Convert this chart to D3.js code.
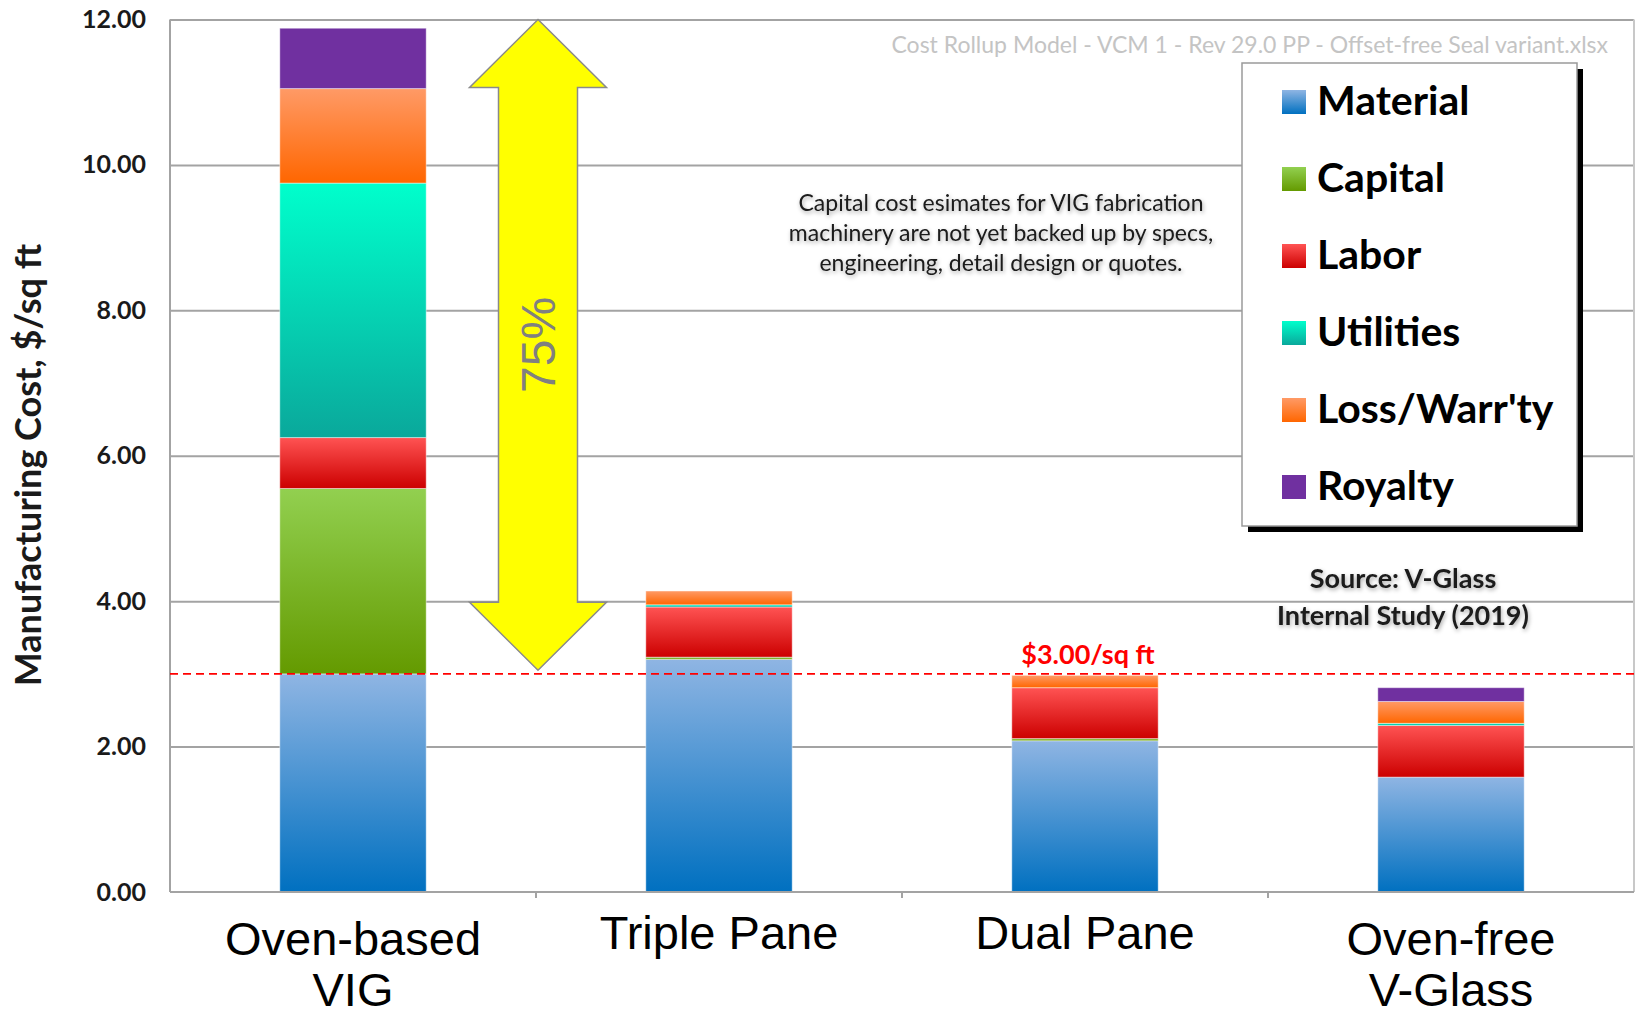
<!DOCTYPE html>
<html>
<head>
<meta charset="utf-8">
<script src="https://cdn.jsdelivr.net/npm/d3@7"></script>
<style>
  body { margin: 0; background: #fff; }
  text { font-family: Lato, "Open Sans", sans-serif; }
</style>
</head>
<body>
<script>
// Chart data
const categories = ["Oven-based VIG", "Triple Pane", "Dual Pane", "Oven-free V-Glass"];
const categoryLines = [["Oven-based", "VIG"], ["Triple Pane"], ["Dual Pane"], ["Oven-free", "V-Glass"]];
const seriesNames = ["Material", "Capital", "Labor", "Utilities", "Loss/Warr'ty", "Royalty"];
const material = [3.00, 3.20, 2.08, 1.58];
const capital = [2.55, 0.03, 0.03, 0.00];
const labor = [0.70, 0.69, 0.70, 0.71];
const utilities = [3.50, 0.03, 0.00, 0.03];
const lossWarranty = [1.30, 0.19, 0.17, 0.30];
const royalty = [0.83, 0.00, 0.00, 0.19];
const yTicks = [0, 2, 4, 6, 8, 10, 12];
const targetCost = 3.00;
const arrowRange = [3.05, 12];
const arrowLabel = "75%";

// Colors (top, bottom of the gradient)
const seriesColors = [
  ["#8fb5e3", "#0070c0"],
  ["#92d050", "#649a00"],
  ["#ff5353", "#cc0000"],
  ["#00ffcc", "#0aa89b"],
  ["#ff9a66", "#ff6600"],
  ["#7030a0", "#7030a0"]
];
const grid_color = "#a3a3a3";

let width = 1640;
let height = 1018;

let svg = d3.select("body")
  .append("svg")
  .attr("width", width)
  .attr("height", height);

let defs = svg.append("defs");
seriesColors.forEach((c, i) => {
  let g = defs.append("linearGradient")
    .attr("id", "grad" + i)
    .attr("x1", 0).attr("y1", 0).attr("x2", 0).attr("y2", 1);
  g.append("stop").attr("offset", "0%").attr("stop-color", c[0]);
  g.append("stop").attr("offset", "100%").attr("stop-color", c[1]);
});
let glow = defs.append("filter").attr("id", "glow")
  .attr("x", "-10%").attr("y", "-30%").attr("width", "120%").attr("height", "160%");
glow.append("feDropShadow").attr("dx", 1).attr("dy", 2).attr("stdDeviation", 2)
  .attr("flood-color", "#000").attr("flood-opacity", 0.35);

// Plot area
const plot = {left: 170, right: 1634, top: 19.5, bottom: 892};

const x = d3.scaleBand()
  .domain(categories)
  .range([plot.left, plot.right])
  .paddingInner(0.6)
  .paddingOuter(0.3);

const y = d3.scaleLinear()
  .domain([0, 12])
  .range([plot.bottom, plot.top]);

// Gridlines
svg.append("g")
  .attr("transform", `translate(${plot.left},0)`)
  .call(d3.axisLeft(y).tickValues(yTicks.slice(1)).tickSize(-(plot.right - plot.left)).tickFormat(""))
  .call(g => g.select(".domain").remove())
  .call(g => g.selectAll("line").attr("stroke", grid_color).attr("stroke-width", 2));

// Frame
svg.append("line")
  .attr("x1", plot.left).attr("x2", plot.left)
  .attr("y1", plot.top).attr("y2", plot.bottom)
  .attr("stroke", grid_color).attr("stroke-width", 2);
svg.append("line")
  .attr("x1", plot.right).attr("x2", plot.right)
  .attr("y1", plot.top).attr("y2", plot.bottom)
  .attr("stroke", "#c8c8c8").attr("stroke-width", 2);

// Stacked bars
const rows = categories.map((c, i) => ({
  category: c,
  "Material": material[i],
  "Capital": capital[i],
  "Labor": labor[i],
  "Utilities": utilities[i],
  "Loss/Warr'ty": lossWarranty[i],
  "Royalty": royalty[i]
}));
const stacked = d3.stack().keys(seriesNames)(rows);

svg.append("g").selectAll("g")
  .data(stacked)
  .enter().append("g")
  .attr("fill", (d, i) => `url(#grad${i})`)
  .selectAll("rect")
  .data(d => d.filter(s => s[1] - s[0] > 0))
  .enter().append("rect")
  .attr("x", d => x(d.data.category))
  .attr("y", d => y(d[1]))
  .attr("width", x.bandwidth())
  .attr("height", d => y(d[0]) - y(d[1]))
  .attr("stroke", "rgba(255,255,255,0.45)")
  .attr("stroke-width", 1);

// X axis line + boundary ticks
svg.append("line")
  .attr("x1", plot.left).attr("x2", plot.right)
  .attr("y1", y(0)).attr("y2", y(0))
  .attr("stroke", grid_color).attr("stroke-width", 2);
const gap = x.step() * x.paddingInner() / 2;
svg.append("g").selectAll("line")
  .data(categories.slice(1))
  .enter().append("line")
  .attr("x1", d => x(d) - gap).attr("x2", d => x(d) - gap)
  .attr("y1", y(0)).attr("y2", y(0) + 6)
  .attr("stroke", grid_color).attr("stroke-width", 2);

// Category labels
let xAxis = svg.append("g")
  .attr("transform", `translate(0,${y(0)})`)
  .call(d3.axisBottom(x).tickSize(0).tickFormat(""));
xAxis.select(".domain").remove();
xAxis.selectAll(".tick").each(function(d, i) {
  let lines = categoryLines[i];
  let t = d3.select(this).append("text")
    .attr("text-anchor", "middle")
    .attr("fill", "#000")
    .style("font-family", "'Liberation Sans', Arial, sans-serif")
    .style("font-size", "47px");
  let base = lines.length > 1 ? 63 : 57;
  lines.forEach((l, j) => {
    t.append("tspan").attr("x", 0).attr("y", base + j * 51).text(l);
  });
});

// Y axis labels
svg.append("g")
  .attr("transform", `translate(${plot.left},0)`)
  .call(d3.axisLeft(y).tickValues(yTicks).tickSize(0).tickPadding(24).tickFormat(d3.format(".2f")))
  .call(g => g.select(".domain").remove())
  .call(g => g.selectAll("text")
    .attr("fill", "#1a1a1a")
    .style("font-family", "Lato, sans-serif")
    .style("font-size", "25px")
    .style("font-weight", "bold"));

svg.append("text")
  .attr("transform", `translate(32,465) rotate(-90)`)
  .attr("text-anchor", "middle")
  .attr("dominant-baseline", "middle")
  .attr("fill", "#1a1a1a")
  .style("font-size", "36px")
  .style("font-weight", "bold")
  .text("Manufacturing Cost, $/sq ft");

// Target line
svg.append("line")
  .attr("x1", plot.left).attr("x2", plot.right)
  .attr("y1", y(targetCost)).attr("y2", y(targetCost))
  .attr("stroke", "#ff0000").attr("stroke-width", 1.8)
  .attr("stroke-dasharray", "8,5");
svg.append("text")
  .attr("x", x("Dual Pane") + x.bandwidth() / 2 + 3)
  .attr("y", y(targetCost) - 10)
  .attr("text-anchor", "middle")
  .attr("fill", "#ff0000")
  .style("font-size", "27px")
  .style("font-weight", "bold")
  .text("$3.00/sq ft");

// Double arrow
const ax = x(categories[1]) - gap + 2;
const aTop = y(arrowRange[1]);
const aBot = y(arrowRange[0]);
const headLen = 68, headHalf = 68.5, shaftHalf = 39.5;
const arrowPts = [
  [ax, aTop], [ax + headHalf, aTop + headLen], [ax + shaftHalf, aTop + headLen],
  [ax + shaftHalf, aBot - headLen], [ax + headHalf, aBot - headLen], [ax, aBot],
  [ax - headHalf, aBot - headLen], [ax - shaftHalf, aBot - headLen],
  [ax - shaftHalf, aTop + headLen], [ax - headHalf, aTop + headLen]
];
svg.append("path")
  .attr("d", d3.line()(arrowPts) + "Z")
  .attr("fill", "#ffff00")
  .attr("stroke", "#8a8a8a")
  .attr("stroke-width", 1.5);
svg.append("text")
  .attr("transform", `translate(${ax + 4},${(aTop + aBot) / 2}) rotate(-90)`)
  .attr("text-anchor", "middle")
  .attr("dominant-baseline", "middle")
  .attr("fill", "#808080")
  .style("font-family", "'Liberation Sans', Arial, sans-serif")
  .style("font-size", "48px")
  .text(arrowLabel);

// Watermark
svg.append("text")
  .attr("x", 1608).attr("y", 53)
  .attr("text-anchor", "end")
  .attr("fill", "#c4c4c4")
  .style("font-size", "23px")
  .text("Cost Rollup Model - VCM 1 - Rev 29.0 PP - Offset-free Seal variant.xlsx");

// Note
const noteLines = ["Capital cost esimates for VIG fabrication",
  "machinery are not yet backed up by specs,",
  "engineering, detail design or quotes."];
svg.append("g").attr("filter", "url(#glow)")
  .selectAll("text")
  .data(noteLines)
  .enter().append("text")
  .attr("x", 1001)
  .attr("y", (d, i) => 211 + i * 30)
  .attr("text-anchor", "middle")
  .attr("fill", "#1a1a1a")
  .style("font-size", "23px")
  .text(d => d);

const sourceLines = ["Source: V-Glass", "Internal Study (2019)"];
svg.append("g").attr("filter", "url(#glow)")
  .selectAll("text")
  .data(sourceLines)
  .enter().append("text")
  .attr("x", 1403)
  .attr("y", (d, i) => 588 + i * 37)
  .attr("text-anchor", "middle")
  .attr("fill", "#1a1a1a")
  .style("font-size", "27px")
  .style("font-weight", "bold")
  .text(d => d);

// Legend
const lg = {x: 1242, y: 63, w: 335, h: 463};
svg.append("rect")
  .attr("x", lg.x + 6).attr("y", lg.y + 6)
  .attr("width", lg.w).attr("height", lg.h)
  .attr("fill", "#000");
svg.append("rect")
  .attr("x", lg.x).attr("y", lg.y)
  .attr("width", lg.w).attr("height", lg.h)
  .attr("fill", "#fff")
  .attr("stroke", "#9a9a9a").attr("stroke-width", 1.5);

let legendItems = svg.append("g").selectAll("g")
  .data(seriesNames)
  .enter().append("g")
  .attr("transform", (d, i) => `translate(1282,${102 + i * 77})`);
legendItems.append("rect")
  .attr("x", 0).attr("y", -12)
  .attr("width", 24).attr("height", 24)
  .attr("fill", (d, i) => `url(#grad${i})`);
legendItems.append("text")
  .attr("x", 35).attr("y", 13)
  .attr("fill", "#000")
  .style("font-size", "41px")
  .style("font-weight", "bold")
  .text(d => d);
</script>
</body>
</html>
